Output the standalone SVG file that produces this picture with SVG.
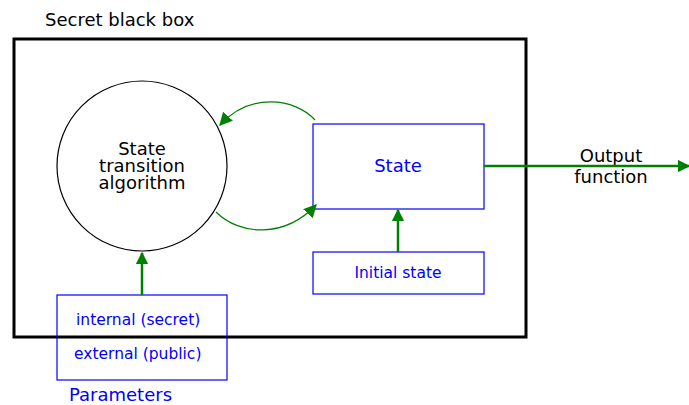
<svg xmlns="http://www.w3.org/2000/svg" width="689" height="405" viewBox="0 0 689 405">
<style>
text{font-family:"DejaVu Sans",sans-serif;}
.lbl{font-size:18px;fill:#000;text-anchor:middle}
.blue{fill:#0000ff}
.bbox{fill:none;stroke:#0000ff;stroke-width:1.2}
.thick{stroke:#008000;stroke-width:2.5;fill:none}
.thin{stroke:#008000;stroke-width:1.2;fill:none}
</style>
<defs>
<marker id="ah" viewBox="0 0 10 10" refX="9" refY="5" markerWidth="5" markerHeight="5" orient="auto" markerUnits="strokeWidth">
<path d="M0,0 L10,5 L0,10 z" fill="#008000"/>
</marker>
<marker id="ahs" viewBox="0 0 10 10" refX="9" refY="5" markerWidth="11" markerHeight="11" orient="auto" markerUnits="strokeWidth">
<path d="M0,0 L10,5 L0,10 z" fill="#008000"/>
</marker>
</defs>
<g id="blackbox">
<rect x="14" y="39" width="512" height="298" fill="none" stroke="#000" stroke-width="3"/>
<text x="45" y="26" style="font-size:18px">Secret black box</text>
</g>
<g id="algorithm">
<circle cx="142" cy="166" r="85" fill="none" stroke="#000" stroke-width="1.2"/>
<text class="lbl" x="142" y="155">State</text>
<text class="lbl" x="142" y="172">transition</text>
<text class="lbl" x="142" y="189">algorithm</text>
</g>
<g id="state">
<rect class="bbox" x="313" y="124" width="171" height="85"/>
<text class="lbl blue" x="398" y="172">State</text>
</g>
<g id="initial">
<rect class="bbox" x="313" y="252" width="171" height="42"/>
<text class="blue" x="398" y="278" style="font-size:15.5px;text-anchor:middle">Initial state</text>
</g>
<g id="parameters">
<rect class="bbox" x="57" y="295" width="170" height="85"/>
<text class="blue" x="76" y="325" style="font-size:15.5px">internal (secret)</text>
<text class="blue" x="74" y="359" style="font-size:15.5px">external (public)</text>
<text class="blue" x="69" y="401" style="font-size:18px">Parameters</text>
</g>
<g id="output">
<text class="lbl" x="611" y="162">Output</text>
<text class="lbl" x="611" y="183">function</text>
</g>
<g id="connectors">
<path class="thin" d="M315,120 C295,98 250,92 220,125" marker-end="url(#ahs)"/>
<path class="thin" d="M216,212 C240,236 285,238 316,205" marker-end="url(#ahs)"/>
<path class="thick" d="M142,295 L142,253" marker-end="url(#ah)"/>
<path class="thick" d="M398,252 L398,210" marker-end="url(#ah)"/>
<path class="thick" d="M484,166 L689,166" marker-end="url(#ah)"/>
</g>
</svg>
